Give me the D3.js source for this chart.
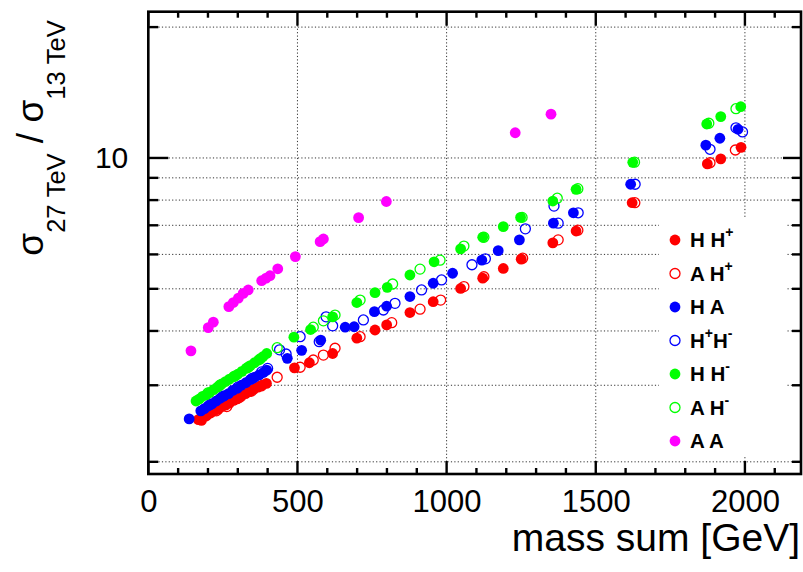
<!DOCTYPE html>
<html><head><meta charset="utf-8">
<script src="https://cdn.jsdelivr.net/npm/d3@7"></script>
<style>
html,body{margin:0;padding:0;background:#fff;}
svg{display:block;font-family:"Liberation Sans",Arial,Helvetica,sans-serif;}
</style></head>
<body><svg id="c" width="803" height="572"></svg>
<script>
// ---- data: [mass sum (GeV), sigma27/sigma13] ----
const HHp = [[168,2.50],[178,2.49],[186,2.54],[197,2.56],[209,2.59],[220,2.62],[234,2.64],[246,2.68],[259,2.70],[272,2.73],[286,2.77],[298,2.79],[312,2.83],[326,2.87],[340,2.90],[354,2.94],[368,2.97],[382,3.00],[396,3.03],
  [490,3.29],[540,3.38],[618,3.55],[699,3.85],[760,4.02],[799,4.13],[877,4.41],[955,4.67],[1047,5.01],[1121,5.29],[1190,5.57],[1250,5.85],[1356,6.38],[1434,6.79],[1622,7.89],[1874,9.69],[1919,9.95],[1987,10.58]];
const AHp = [[192,2.55],[228,2.62],[263,2.68],[305,2.81],[346,2.91],[378,2.99],[432,3.13],[509,3.30],[553,3.43],[587,3.52],[626,3.65],[710,3.88],[816,4.18],[911,4.49],[980,4.71],[1058,5.06],[1125,5.33],[1255,5.88],[1374,6.48],[1440,6.82],[1631,7.89],[1883,9.75],[1968,10.43]];
const HA = [[137,2.51],[176,2.62],[188,2.65],[201,2.69],[214,2.72],[228,2.76],[241,2.80],[255,2.84],[269,2.87],[283,2.92],[297,2.95],[312,3.00],[327,3.04],[342,3.09],[357,3.13],[372,3.17],[386,3.21],[397,3.25],
  [466,3.46],[514,3.61],[578,3.81],[660,4.08],[690,4.09],[758,4.43],[799,4.56],[877,4.80],[955,5.15],[1020,5.43],[1118,5.82],[1173,6.12],[1244,6.48],[1358,7.08],[1425,7.48],[1617,8.70],[1869,10.70],[1916,11.10],[1977,11.64]];
const HpHm = [[208,2.71],[250,2.83],[300,2.97],[348,3.11],[380,3.22],[400,3.28],[440,3.62],[462,3.54],[509,3.88],[573,3.78],[596,4.31],[618,4.11],[721,4.24],[788,4.47],[827,4.63],[916,4.97],[983,5.24],[1085,5.68],[1130,5.86],[1264,6.87],[1360,7.75],[1374,7.08],[1441,7.48],[1632,8.70],[1883,10.47],[1970,11.73],[1992,11.48]];
const HHm = [[160,2.76],[171,2.79],[182,2.83],[194,2.85],[206,2.89],[219,2.93],[232,2.97],[246,3.02],[259,3.06],[272,3.10],[286,3.14],[300,3.18],[314,3.23],[328,3.28],[342,3.33],[356,3.38],[370,3.43],[384,3.49],[397,3.55],
  [488,3.87],[544,4.03],[618,4.31],[699,4.65],[760,4.90],[801,5.04],[877,5.38],[958,5.77],[1047,6.18],[1121,6.57],[1190,6.95],[1248,7.30],[1356,7.96],[1434,8.47],[1624,9.77],[1872,11.97],[1919,12.45],[1986,13.12]];
const AHm = [[200,2.88],[240,3.00],[290,3.15],[335,3.30],[375,3.45],[432,3.66],[553,4.08],[587,4.22],[626,4.35],[710,4.71],[819,5.13],[911,5.55],[978,5.82],[1058,6.27],[1125,6.57],[1253,7.30],[1371,8.08],[1440,8.50],[1630,9.78],[1879,12.02],[1970,12.98]];
const AA = [[143,3.60],[201,4.07],[218,4.19],[270,4.55],[285,4.65],[302,4.76],[318,4.88],[335,4.97],[380,5.22],[395,5.29],[408,5.36],[434,5.56],[493,5.93],[576,6.42],[587,6.51],[705,7.29],[798,7.94],[1230,11.43],[1350,12.61]];

const seriesLabels = [["H H","+"],["A H","+"],["H A",""],["H","+","H","-"],["H H","-"],["A H","-"],["A A",""]];
const seriesColors = ["#ff0000","#ff0000","#0000ff","#0000ff","#00ff00","#00ff00","#ff00ff"];
const seriesOpen = [false,true,false,true,false,true,false];
const seriesData = [HHp,AHp,HA,HpHm,HHm,AHm,AA];

const xMajor = [0,500,1000,1500,2000];
const xMinor = d3.range(100,2200,100).filter(v=>v%500!==0);
const yGrid = [2,3,4,5,6,7,8,9,10,20];
const yLabels = [10];

// ---- layout ----
const L=148.3, R=801, T=11.7, B=474;
const svg = d3.select("#c");
const x = d3.scaleLinear().domain([0,2188]).range([L,R]);
const y = d3.scaleLog().domain([1.875,21.7]).range([B,T]);

// grid
const grid = svg.append("g").attr("stroke","#333").attr("stroke-width",1).attr("stroke-dasharray","1.2,2.2");
grid.selectAll("line.h").data(yGrid).join("line").attr("class","h")
  .attr("x1",L).attr("x2",R).attr("y1",d=>y(d)).attr("y2",d=>y(d));
grid.selectAll("line.v").data(xMajor.filter(d=>d>0)).join("line").attr("class","v")
  .attr("y1",T).attr("y2",B).attr("x1",d=>x(d)).attr("x2",d=>x(d));

// data markers
seriesData.forEach((data,i)=>{
  const g = svg.append("g");
  g.selectAll("circle").data(data).join("circle")
    .attr("cx",d=>x(d[0])).attr("cy",d=>y(d[1]))
    .attr("r", seriesOpen[i]?5:5.4)
    .attr("fill", seriesOpen[i]?"none":seriesColors[i])
    .attr("stroke", seriesOpen[i]?seriesColors[i]:"none")
    .attr("stroke-width",1.3);
});

// legend
const leg = svg.append("g");
leg.append("rect").attr("x",659).attr("y",218).attr("width",127).attr("height",239).attr("fill","#fff");
const rowY = d3.range(7).map(i=>240+i*33.5);
seriesLabels.forEach((lab,i)=>{
  const cy = rowY[i];
  leg.append("circle").attr("cx",675).attr("cy",cy).attr("r",seriesOpen[i]?5:5.4)
    .attr("fill",seriesOpen[i]?"#fff":seriesColors[i]).attr("stroke",seriesOpen[i]?seriesColors[i]:"none").attr("stroke-width",1.3);
  const t = leg.append("text").attr("x",690).attr("y",cy+7.3).attr("font-size",20.5).attr("font-weight","bold").style("white-space","pre");
  lab.forEach((s,k)=>{
    if(k%2===0){ t.append("tspan").attr("font-size",20.5).attr("dy", k===0?0:10).text(s); }
    else if(s){ t.append("tspan").attr("font-size",14).attr("dy",-10).text(s==="-"?"\u2011":s); }
  });
});

// axes ticks (inside)
const ax = svg.append("g").attr("stroke","#000").attr("stroke-width",2.4);
ax.selectAll("l.bM").data(xMajor).join("line").attr("x1",d=>x(d)).attr("x2",d=>x(d)).attr("y1",B).attr("y2",B-13);
ax.selectAll("l.bm").data(xMinor).join("line").attr("x1",d=>x(d)).attr("x2",d=>x(d)).attr("y1",B).attr("y2",B-6);
ax.selectAll("l.tM").data(xMajor).join("line").attr("x1",d=>x(d)).attr("x2",d=>x(d)).attr("y1",T).attr("y2",T+14);
ax.selectAll("l.tm").data(xMinor).join("line").attr("x1",d=>x(d)).attr("x2",d=>x(d)).attr("y1",T).attr("y2",T+6);
ax.selectAll("l.l").data(yGrid).join("line").attr("y1",d=>y(d)).attr("y2",d=>y(d)).attr("x1",L).attr("x2",d=>L+(yLabels.includes(d)?20:10));
ax.selectAll("l.r").data(yGrid).join("line").attr("y1",d=>y(d)).attr("y2",d=>y(d)).attr("x1",R).attr("x2",d=>R-(yLabels.includes(d)?18:9));

// axis labels via d3 axes
const gx = svg.append("g").attr("transform",`translate(0,${B})`)
  .call(d3.axisBottom(x).tickValues(xMajor).tickSize(0).tickPadding(16).tickFormat(d3.format("d")));
gx.select(".domain").remove();
gx.selectAll("text").attr("font-size",31).attr("font-family","Liberation Sans, Arial, sans-serif").attr("fill","#000");

const gy = svg.append("g").attr("transform",`translate(${L},0)`)
  .call(d3.axisLeft(y).tickValues(yLabels).tickSize(0).tickPadding(20).tickFormat(d3.format("d")));
gy.select(".domain").remove();
gy.selectAll("text").attr("font-size",30).attr("font-family","Liberation Sans, Arial, sans-serif").attr("fill","#000");

// frame
svg.append("rect").attr("x",L).attr("y",T).attr("width",R-L).attr("height",B-T)
  .attr("fill","none").attr("stroke","#000").attr("stroke-width",2.6);

// titles
svg.append("text").attr("x",800).attr("y",551).attr("text-anchor","end").attr("font-size",39).text("mass sum [GeV]");
const yt = svg.append("text").attr("transform","translate(43,138) rotate(-90)").attr("text-anchor","middle").style("white-space","pre");
yt.append("tspan").attr("font-size",37).text("\u03c3");
yt.append("tspan").attr("font-size",25.5).attr("dy",22).text("27 TeV");
yt.append("tspan").attr("font-size",37).attr("dy",-22).text(" / \u03c3");
yt.append("tspan").attr("font-size",25.5).attr("dy",22).text("13 TeV");
</script></body></html>
